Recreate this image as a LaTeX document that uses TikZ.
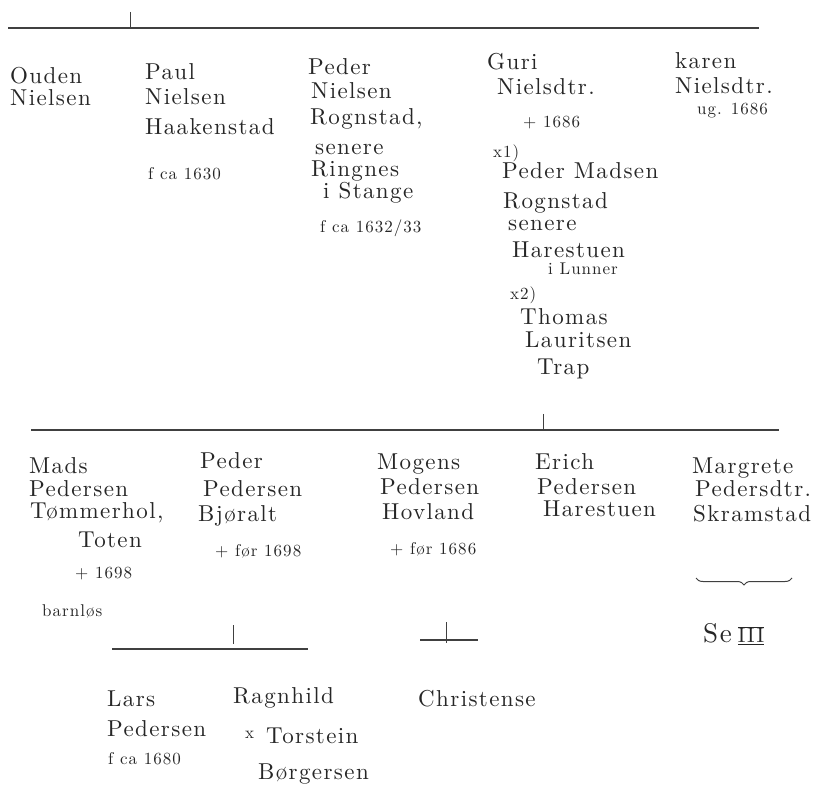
\documentclass[tikz,border=0pt]{standalone}
\usepackage{fontspec}
\setmainfont{lmroman10-regular.otf}[LetterSpace=6]
\usetikzlibrary{decorations.pathreplacing}

% smaller hand for dates and marks
\newcommand{\notetxt}[1]{{\fontsize{17}{19}\selectfont #1}}

\tikzset{
  person/.style={anchor=north west, inner sep=0pt, align=left, text=black!85,
    font=\fontsize{23}{25}\selectfont},
  bar/.style={line width=1.1pt, draw=black!75},
  tick/.style={line width=1pt, draw=black!75},
}

\begin{document}
\begin{tikzpicture}[x=1pt,y=-1pt]

    \useasboundingbox (0,0) rectangle (815,786);

    % --- Coordinates ---
    % first generation bar
    \coordinate (topW) at (8,28);
    \coordinate (topE) at (759,28);
    \coordinate (topT) at (130,12);
    \coordinate (topM) at (130,28);
    % second generation bar (children of Guri)
    \coordinate (midW) at (31,430);
    \coordinate (midE) at (779,430);
    \coordinate (midT) at (543,414);
    \coordinate (midM) at (543,430);
    % children of Peder Pedersen
    \coordinate (lowW) at (112,649);
    \coordinate (lowE) at (308,649);
    \coordinate (lowT) at (233,625);
    \coordinate (lowM) at (233,644);
    % only child of Mogens
    \coordinate (oneW) at (420,640);
    \coordinate (oneE) at (478,640);
    \coordinate (oneT) at (446,622);
    \coordinate (oneM) at (446,643);
    % brace under Margrete
    \coordinate (brW) at (696,578);
    \coordinate (brE) at (792,578);

    % --- Bars ---
    \draw[bar] (topW) -- (topE);
    \draw[tick] (topT) -- (topM);
    \draw[bar] (midW) -- (midE);
    \draw[tick] (midT) -- (midM);
    \draw[bar] (lowW) -- (lowE);
    \draw[tick] (lowT) -- (lowM);
    \draw[bar] (oneW) -- (oneE);
    \draw[tick] (oneT) -- (oneM);
    \draw[tick, decorate, decoration={brace, mirror, amplitude=7pt}] (brW) -- (brE);

    % --- First generation ---
    \node[person] (ouden) at (10,66) {\strut Ouden\\[-3pt]
      Nielsen};
    \node[person] (paul) at (145,62) {\strut Paul\\
      Nielsen\\[5pt]
      Haakenstad\\[20pt]
      \hspace*{3pt}\notetxt{f ca 1630}};
    \node[person] (pederN) at (308,57) {\strut Peder\\[-1pt]
      \hspace*{3pt}Nielsen\\[1pt]
      \hspace*{2pt}Rognstad,\\[5pt]
      \hspace*{7pt}senere\\[-3pt]
      \hspace*{3pt}Ringnes\\[-3pt]
      \hspace*{15pt}i Stange\\[9pt]
      \hspace*{12pt}\notetxt{f ca 1632/33}};
    \node[person] (guri) at (487,52) {\strut Guri\\
      \hspace*{10pt}Nielsdtr.\\[8pt]
      \hspace*{36pt}\notetxt{+ 1686}\\[5pt]
      \hspace*{6pt}\notetxt{x1)}\\[-4pt]
      \hspace*{15pt}Peder Madsen\\[5pt]
      \hspace*{16pt}Rognstad\\[-3pt]
      \hspace*{21pt}senere\\[2pt]
      \hspace*{25pt}Harestuen\\[-8pt]
      \hspace*{61pt}\notetxt{i Lunner}\\
      \hspace*{23pt}\notetxt{x2)}\\
      \hspace*{33pt}Thomas\\[-2pt]
      \hspace*{38pt}Lauritsen\\[2pt]
      \hspace*{50pt}Trap};
    \node[person] (karen) at (675,51) {\strut karen\\
      Nielsdtr.\\[-4pt]
      \hspace*{22pt}\notetxt{ug. 1686}};

    % --- Children of Guri ---
    \node[person] (mads) at (29,456) {\strut Mads\\[-2pt]
      Pedersen\\[-3pt]
      \hspace*{1pt}Tømmerhol,\\[4pt]
      \hspace*{49pt}Toten\\[6pt]
      \hspace*{46pt}\notetxt{+ 1698}\\[13pt]
      \hspace*{13pt}\notetxt{barnløs}};
    \node[person] (pederP) at (198,451) {\strut \hspace*{2pt}Peder\\[3pt]
      \hspace*{5pt}Pedersen\\
      Bjøralt\\[10pt]
      \hspace*{17pt}\notetxt{+ før 1698}};
    \node[person] (mogens) at (377,452) {\strut Mogens\\
      \hspace*{3pt}Pedersen\\
      \hspace*{5pt}Hovland\\[10pt]
      \hspace*{13pt}\notetxt{+ før 1686}};
    \node[person] (erich) at (535,452) {\strut Erich\\
      \hspace*{2pt}Pedersen\\[-3pt]
      \hspace*{8pt}Harestuen};
    \node[person] (margrete) at (692,456) {\strut Margrete\\[-2pt]
      \hspace*{3pt}Pedersdtr.\\
      \hspace*{1pt}Skramstad};
    \node[person, font=\fontsize{27}{29}\selectfont] (seIII) at (703,622)
      {\strut Se\hspace{6pt}{\fontsize{21}{23}\selectfont$\overline{\underline{\textrm{III}}}$}};

    % --- Grandchildren ---
    \node[person] (lars) at (107,689) {\strut Lars\\[5pt]
      Pedersen\\[3pt]
      \hspace*{1pt}\notetxt{f ca 1680}};
    \node[person] (ragnhild) at (233,686) {\strut Ragnhild\\[15pt]
      \hspace*{12pt}\raisebox{5pt}{\notetxt{x}}\hspace*{12pt}Torstein\\[11pt]
      \hspace*{25pt}Børgersen};
    \node[person] (christense) at (418,689) {\strut Christense};

\end{tikzpicture}
\end{document}
